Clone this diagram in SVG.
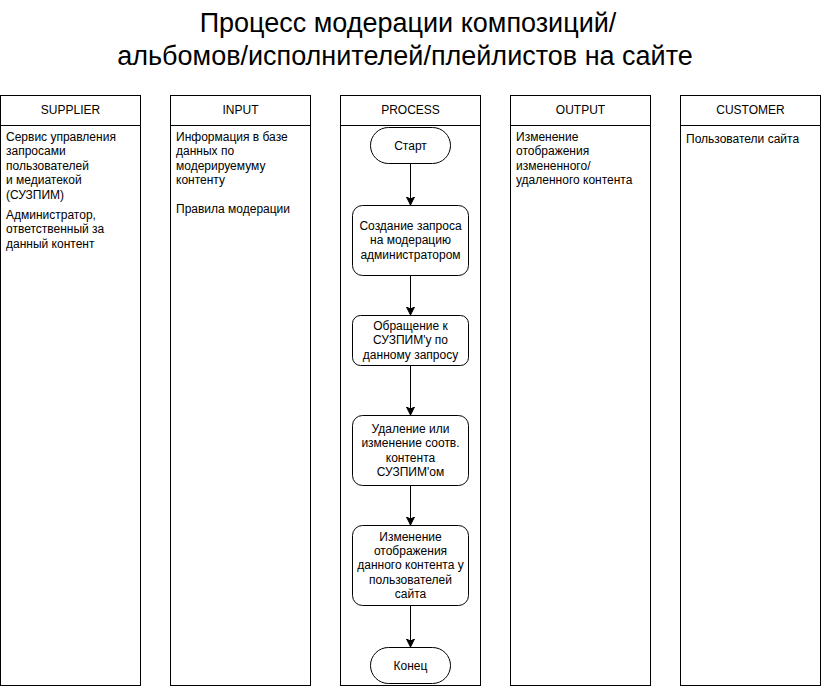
<svg xmlns="http://www.w3.org/2000/svg" width="821" height="686" viewBox="0 0 821 686">
<style>
text{font-family:"Liberation Sans",Arial,sans-serif;font-size:12px;fill:#000}
.title{font-size:27px;text-anchor:middle}
.hdr{text-anchor:middle}
.ctr{text-anchor:middle}
.lane{fill:#fff;stroke:#000;stroke-width:1}
.node{fill:#fff;stroke:#000;stroke-width:1}
.edge{fill:none;stroke:#000;stroke-width:1}
</style>
<defs>
<marker id="arr" markerWidth="10" markerHeight="10" refX="8" refY="4" orient="auto" markerUnits="userSpaceOnUse">
<path d="M0,0 L8,4 L0,8 L2,4 Z" fill="#000" stroke="#000" stroke-width="1"/>
</marker>
</defs>
<rect width="821" height="686" fill="#fff"/>
<g id="title">
<text class="title" x="408" y="32">Процесс модерации композиций/</text>
<text class="title" x="405" y="65">альбомов/исполнителей/плейлистов на сайте</text>
</g>
<g id="lane-supplier">
<rect class="lane" x="0.5" y="95.5" width="140" height="590"/>
<line class="edge" x1="0.5" y1="125.5" x2="140.5" y2="125.5"/>
<text class="hdr" x="70.5" y="114">SUPPLIER</text>
<text x="6" y="141">Сервис управления</text>
<text x="6" y="155.4">запросами</text>
<text x="6" y="169.8">пользователей</text>
<text x="6" y="184.2">и медиатекой</text>
<text x="6" y="198.6">(СУЗПИМ)</text>
<text x="6" y="219">Администратор,</text>
<text x="6" y="233.4">ответственный за</text>
<text x="6" y="247.8">данный контент</text>
</g>
<g id="lane-input">
<rect class="lane" x="170.5" y="95.5" width="140" height="590"/>
<line class="edge" x1="170.5" y1="125.5" x2="310.5" y2="125.5"/>
<text class="hdr" x="240.5" y="114">INPUT</text>
<text x="176" y="141">Информация в базе</text>
<text x="176" y="155.4">данных по</text>
<text x="176" y="169.8">модерируемуму</text>
<text x="176" y="184.2">контенту</text>
<text x="176" y="213">Правила модерации</text>
</g>
<g id="lane-process">
<rect class="lane" x="340.5" y="95.5" width="140" height="590"/>
<line class="edge" x1="340.5" y1="125.5" x2="480.5" y2="125.5"/>
<text class="hdr" x="410.5" y="114">PROCESS</text>
</g>
<g id="lane-output">
<rect class="lane" x="510.5" y="95.5" width="140" height="590"/>
<line class="edge" x1="510.5" y1="125.5" x2="650.5" y2="125.5"/>
<text class="hdr" x="580.5" y="114">OUTPUT</text>
<text x="516" y="141">Изменение</text>
<text x="516" y="155.4">отображения</text>
<text x="516" y="169.8">измененного/</text>
<text x="516" y="184.2">удаленного контента</text>
</g>
<g id="lane-customer">
<rect class="lane" x="680.5" y="95.5" width="140" height="590"/>
<line class="edge" x1="680.5" y1="125.5" x2="820.5" y2="125.5"/>
<text class="hdr" x="750.5" y="114">CUSTOMER</text>
<text x="686" y="143">Пользователи сайта</text>
</g>
<g id="connectors">
<line class="edge" x1="410.5" y1="163" x2="410.5" y2="205" marker-end="url(#arr)"/>
<line class="edge" x1="410.5" y1="275" x2="410.5" y2="315" marker-end="url(#arr)"/>
<line class="edge" x1="410.5" y1="365" x2="410.5" y2="415" marker-end="url(#arr)"/>
<line class="edge" x1="410.5" y1="485" x2="410.5" y2="525" marker-end="url(#arr)"/>
<line class="edge" x1="410.5" y1="605" x2="410.5" y2="647" marker-end="url(#arr)"/>
</g>
<g id="start">
<rect class="node" x="370.5" y="127.5" width="80" height="36" rx="18" ry="18"/>
<text class="ctr" x="410.5" y="149.5">Старт</text>
</g>
<g id="step1">
<rect class="node" x="352.5" y="205.5" width="116" height="70" rx="10" ry="10"/>
<text class="ctr" x="410.5" y="230">Создание запроса</text>
<text class="ctr" x="410.5" y="244.4">на модерацию</text>
<text class="ctr" x="410.5" y="258.8">администратором</text>
</g>
<g id="step2">
<rect class="node" x="352.5" y="315.5" width="116" height="50" rx="8" ry="8"/>
<text class="ctr" x="410.5" y="330">Обращение к</text>
<text class="ctr" x="410.5" y="344.4">СУЗПИМ'у по</text>
<text class="ctr" x="410.5" y="358.8">данному запросу</text>
</g>
<g id="step3">
<rect class="node" x="352.5" y="415.5" width="116" height="70" rx="10" ry="10"/>
<text class="ctr" x="410.5" y="432.8">Удаление или</text>
<text class="ctr" x="410.5" y="447.2">изменение соотв.</text>
<text class="ctr" x="410.5" y="461.6">контента</text>
<text class="ctr" x="410.5" y="476">СУЗПИМ'ом</text>
</g>
<g id="step4">
<rect class="node" x="352.5" y="525.5" width="116" height="80" rx="10" ry="10"/>
<text class="ctr" x="410.5" y="540.6">Изменение</text>
<text class="ctr" x="410.5" y="555">отображения</text>
<text class="ctr" x="410.5" y="569.4">данного контента у</text>
<text class="ctr" x="410.5" y="583.8">пользователей</text>
<text class="ctr" x="410.5" y="598.2">сайта</text>
</g>
<g id="end">
<rect class="node" x="370.5" y="647.5" width="80" height="36" rx="18" ry="18"/>
<text class="ctr" x="410.5" y="669.5">Конец</text>
</g>
</svg>
